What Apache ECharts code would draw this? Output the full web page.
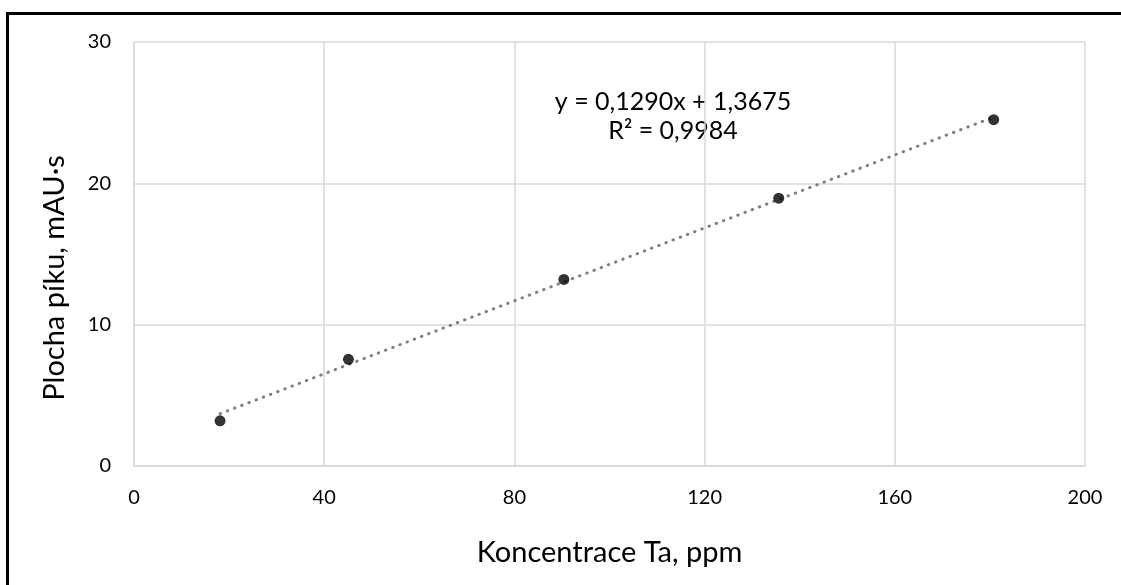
<!DOCTYPE html>
<html>
<head>
<meta charset="utf-8">
<script src="https://cdn.jsdelivr.net/npm/echarts@6/dist/echarts.min.js"></script>
<style>
html,body{margin:0;padding:0;background:#fff;}
#chart{width:1121px;height:585px;}
</style>
</head>
<body>
<div id="chart"></div>
<script>
// Data
const concentration = [18.1, 45.1, 90.4, 135.6, 180.8];   // Koncentrace Ta, ppm
const peakArea = [3.2, 7.55, 13.2, 18.95, 24.5];          // Plocha píku, mAU·s
const trendX = [18.1, 180.8];
const trendY = [3.70, 24.69];
const xTicks = [0, 40, 80, 120, 160, 200];
const yTicks = [0, 10, 20, 30];
const equationText = 'y = 0,1290x + 1,3675';
const r2Text = 'R² = 0,9984';
const xTitle = 'Koncentrace Ta, ppm';
const yTitle = 'Plocha píku, mAU·s';

const FONT = 'Lato';
const chart = echarts.init(document.getElementById('chart'), null, {renderer: 'canvas'});
const points = concentration.map((x, i) => [x, peakArea[i]]);
const trend = trendX.map((x, i) => [x, trendY[i]]);

chart.setOption({
  animation: false,
  backgroundColor: '#ffffff',
  grid: {left: 134, right: 36, top: 42, bottom: 119, containLabel: false},
  xAxis: {
    type: 'value', min: xTicks[0], max: xTicks[xTicks.length - 1], interval: 40,
    axisLine: {show: true, lineStyle: {color: '#d9d9d9', width: 1.5}},
    axisTick: {show: false},
    splitLine: {show: true, lineStyle: {color: '#d9d9d9', width: 1.5}},
    axisLabel: {color: '#000', fontFamily: FONT, fontSize: 20, margin: 22},
    name: xTitle, nameLocation: 'middle', nameGap: 72,
    nameTextStyle: {color: '#000', fontFamily: FONT, fontSize: 29}
  },
  yAxis: {
    type: 'value', min: yTicks[0], max: yTicks[yTicks.length - 1], interval: 10,
    axisLine: {show: true, lineStyle: {color: '#d9d9d9', width: 1.5}},
    axisTick: {show: false},
    splitLine: {show: true, lineStyle: {color: '#d9d9d9', width: 1.5}},
    axisLabel: {color: '#000', fontFamily: FONT, fontSize: 20, margin: 23}
  },
  graphic: [
    {type: 'polyline', silent: true,
     shape: {points: [[7.5, 600], [7.5, 13.5], [1130, 13.5]]},
     style: {stroke: '#000', lineWidth: 3, fill: null}},
    {type: 'text', silent: true, x: 55, y: 278, rotation: Math.PI / 2,
     style: {text: yTitle, font: '29px ' + FONT, fill: '#000', align: 'center', verticalAlign: 'middle'}},
    {type: 'text', silent: true, x: 673, y: 102,
     style: {text: equationText, font: '25px ' + FONT, fill: '#000', align: 'center', verticalAlign: 'middle'}},
    {type: 'text', silent: true, x: 673, y: 131,
     style: {text: r2Text, font: '25px ' + FONT, fill: '#000', align: 'center', verticalAlign: 'middle'}}
  ],
  series: [
    {type: 'line', data: trend, symbol: 'none', silent: true, z: 2,
     lineStyle: {color: '#808080', width: 3, type: [0.5, 7.2], cap: 'round'}},
    {type: 'scatter', data: points, symbol: 'circle', symbolSize: 11, z: 3,
     itemStyle: {color: '#000'}}
  ]
});
</script>
</body>
</html>
